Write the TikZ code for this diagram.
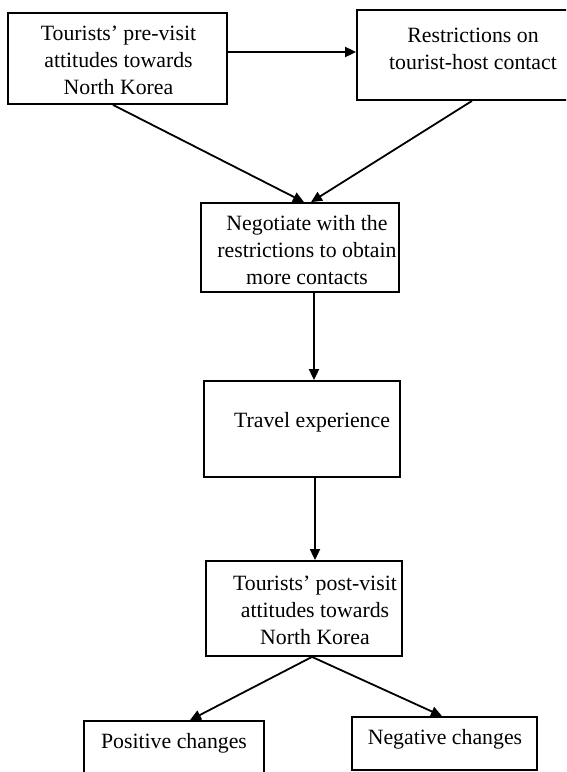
\documentclass[tikz,border=0pt]{standalone}
\usepackage{fontspec}
\setmainfont{Liberation Serif}
\usetikzlibrary{arrows.meta}
\begin{document}
\begin{tikzpicture}[x=1pt,y=1pt,
  box/.style={draw=black, line width=1.8pt, rectangle, inner sep=0pt},
  txt/.style={font=\fontsize{21.8}{27}\selectfont, align=center, inner sep=0pt},
  arr/.style={-{Triangle[length=11pt,width=10pt]}, line width=1.8pt}]
\useasboundingbox (0,0) rectangle (566,-772);
\clip (0,0) rectangle (566,-772);
\fill[white] (0,0) rectangle (566,-772);
% boxes
\node[box, minimum width=219pt, minimum height=91pt] (A) at (117.5,-58.5) {};
\node[box, minimum width=232pt, minimum height=90pt] (B) at (473,-55) {};
\node[box, minimum width=198pt, minimum height=89pt] (C) at (300,-247.5) {};
\node[box, minimum width=196pt, minimum height=96pt] (D) at (302,-429) {};
\node[box, minimum width=196pt, minimum height=95pt] (E) at (304,-608.5) {};
\node[box, minimum width=180pt, minimum height=54pt] (F) at (174,-748) {};
\node[box, minimum width=185pt, minimum height=53pt] (G) at (444.5,-743.5) {};
% texts
\node[txt] (At) at (118.5,-60) {Tourists’ pre-visit\\attitudes towards\\North Korea};
\node[txt] (Bt) at (473,-48.5) {Restrictions on\\tourist-host contact};
\node[txt] (Ct) at (307,-250) {Negotiate with the\\restrictions to obtain\\more contacts};
\node[txt] (Dt) at (312,-422) {Travel experience};
\node[txt] (Et) at (315,-610) {Tourists’ post-visit\\attitudes towards\\North Korea};
\node[txt] (Ft) at (174,-743) {Positive changes};
\node[txt] (Gt) at (445,-739) {Negative changes};
% connectors
\draw[arr] ([yshift=6.5pt]A.east) -- ([yshift=3pt]B.west);
\draw[arr] ([xshift=-4.5pt]A.south) -- ([xshift=4pt]C.north);
\draw[arr] ([xshift=-1pt]B.south) -- ([xshift=11pt]C.north);
\draw[arr] ([xshift=14pt]C.south) -- ([xshift=12pt]D.north);
\draw[arr] ([xshift=13pt]D.south) -- ([xshift=11pt]E.north);
\draw[arr] ([xshift=8pt]E.south) -- ([xshift=16pt]F.north);
\draw[arr] ([xshift=8pt]E.south) -- ([xshift=-2.5pt]G.north);
\end{tikzpicture}
\end{document}
